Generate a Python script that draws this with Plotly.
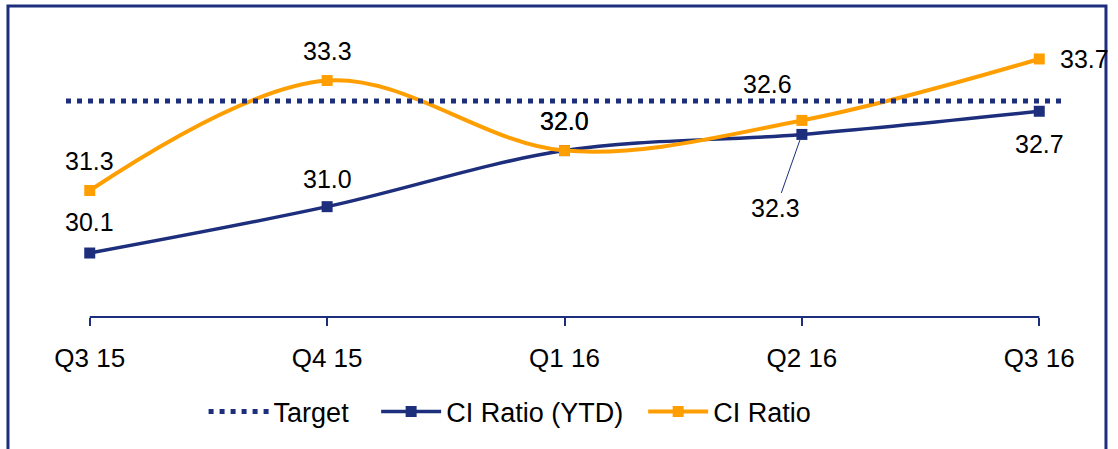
import plotly.graph_objects as go

categories = ["Q3 15", "Q4 15", "Q1 16", "Q2 16", "Q3 16"]
ci_ratio = [31.26, 33.3, 32.0, 32.56, 33.7]
ci_ratio_ytd = [30.1, 30.96, 32.0, 32.3, 32.73]
target_value = 32.92

NAVY = "#1C2E7C"
ORANGE = "#FF9E00"
FONT = "Liberation Sans, Arial, sans-serif"
NB = "\u00a0"

xpos = list(range(len(categories)))

fig = go.Figure()

fig.add_trace(go.Scatter(
    x=xpos, y=ci_ratio_ytd, name="CI Ratio (YTD)" + NB * 2, mode="lines+markers",
    line=dict(color=NAVY, width=3.5, shape="spline", smoothing=1),
    marker=dict(symbol="square", size=11, color=NAVY),
    legendrank=2, hoverinfo="skip"))

fig.add_trace(go.Scatter(
    x=xpos, y=ci_ratio, name="CI Ratio", mode="lines+markers",
    line=dict(color=ORANGE, width=4, shape="spline", smoothing=1),
    marker=dict(symbol="square", size=11, color=ORANGE),
    legendrank=3, hoverinfo="skip"))

fig.add_trace(go.Scatter(
    x=[xpos[0] - 0.1, xpos[-1] + 0.1], y=[target_value, target_value],
    name="Target" + NB * 3, mode="lines",
    line=dict(color=NAVY, width=5, dash="5px,6px"),
    legendrank=1, hoverinfo="skip"))

# data labels
lab_font = dict(family=FONT, size=25, color="#000000")
ytd_shift = [(0, 31), (0, 28), (0, 30), None, (0, -33)]
ci_shift = [(0, 29), (0, 30), (0, 30), (-34, 36), None]

for i, v in enumerate(ci_ratio_ytd):
    s = ytd_shift[i]
    if s is None:
        fig.add_annotation(x=xpos[i], y=v, text=f"{v:.1f}", showarrow=True,
                           ax=-26, ay=74, arrowhead=0, arrowwidth=1, arrowcolor=NAVY,
                           standoff=6, font=lab_font)
    else:
        fig.add_annotation(x=xpos[i], y=v, text=f"{v:.1f}", showarrow=False,
                           xshift=s[0], yshift=s[1], font=lab_font)

for i, v in enumerate(ci_ratio):
    s = ci_shift[i]
    if s is None:
        fig.add_annotation(x=xpos[i], y=v, text=f"{v:.1f}", showarrow=False,
                           xanchor="left", xshift=19, yshift=0, font=lab_font)
    else:
        fig.add_annotation(x=xpos[i], y=v, text=f"{v:.1f}", showarrow=False,
                           xshift=s[0], yshift=s[1], font=lab_font)

# x axis line
fig.add_shape(type="line", xref="x", yref="y domain", x0=xpos[0], x1=xpos[-1],
              y0=0, y1=0, line=dict(color=NAVY, width=2))

# outer border
fig.add_shape(type="rect", xref="paper", yref="paper",
              x0=-0.0582, x1=1.0431, y0=-0.6, y1=1.0471,
              line=dict(color=NAVY, width=3), layer="above")

fig.update_layout(
    width=1118, height=449,
    margin=dict(l=66, r=55, t=20, b=132),
    paper_bgcolor="white", plot_bgcolor="white",
    font=dict(family=FONT, size=25, color="#000000"),
    showlegend=True,
    legend=dict(orientation="h", x=0.138, xanchor="left", y=-0.32, yanchor="middle",
                font=dict(family=FONT, size=27, color="#000000"),
                itemwidth=60, tracegroupgap=0, bgcolor="rgba(0,0,0,0)"),
    xaxis=dict(range=[-0.1, 4.1], tickvals=xpos, ticktext=categories,
               showline=False, showgrid=False, zeroline=False,
               ticks="outside", ticklen=8, tickwidth=2, tickcolor=NAVY,
               ticklabelstandoff=10,
               tickfont=dict(family=FONT, size=26, color="#000000")),
    yaxis=dict(range=[28.913, 34.423], visible=False, showgrid=False, zeroline=False),
)

fig.write_html("out.html", config={"displayModeBar": False},
               post_script="document.body.style.margin='0';document.body.style.overflow='hidden';")
